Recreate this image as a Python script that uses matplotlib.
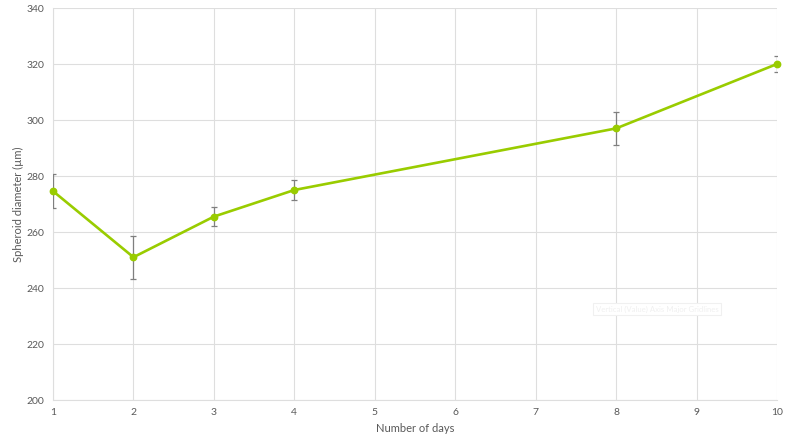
import matplotlib
matplotlib.use("Agg")
import matplotlib.pyplot as plt

days = [1, 2, 3, 4, 8, 10]
diameter = [274.6, 251.0, 265.5, 275.0, 297.0, 320.0]
err = [6.0, 7.7, 3.3, 3.6, 6.0, 3.0]
xticks = list(range(1, 11))
yticks = list(range(200, 341, 20))

plt.rcParams['font.family'] = ['Lato', 'DejaVu Sans']

fig = plt.figure(figsize=(7.92, 4.46), dpi=100)
ax = fig.add_axes([53/792, 46/446, 724/792, 392/446])

grid_c = '#dedede'
ax.set_xlim(1, 10)
ax.set_ylim(200, 340)
ax.set_xticks(xticks)
ax.set_yticks(yticks)
ax.grid(True, color=grid_c, linewidth=0.8)
ax.set_axisbelow(True)
for s in ['top', 'right']:
    ax.spines[s].set_visible(False)
for s in ['left', 'bottom']:
    ax.spines[s].set_color(grid_c)
    ax.spines[s].set_linewidth(0.8)
ax.tick_params(length=0, labelsize=7.5, colors='#595959', pad=6)

ax.errorbar(days, diameter, yerr=err, fmt='none', ecolor='#7f7f7f',
            elinewidth=0.9, capsize=2.5, capthick=0.9, zorder=3)
ax.plot(days, diameter, color='#99cc00', linewidth=1.9, marker='o',
        markersize=4.6, zorder=4, clip_on=False)

ax.set_xlabel('Number of days', fontsize=8, color='#595959', labelpad=4)
ax.set_ylabel('Spheroid diameter (µm)', fontsize=8, color='#595959', labelpad=2)

fig.text(657/792, 1 - 309/446, 'Vertical (Value) Axis Major Gridlines',
         fontsize=5.6, color='#f0f0f0', ha='center', va='center',
         bbox=dict(boxstyle='square,pad=0.3', fc='white', ec='#f0f0f0', lw=0.8))

fig.savefig('out.png', dpi=100)
